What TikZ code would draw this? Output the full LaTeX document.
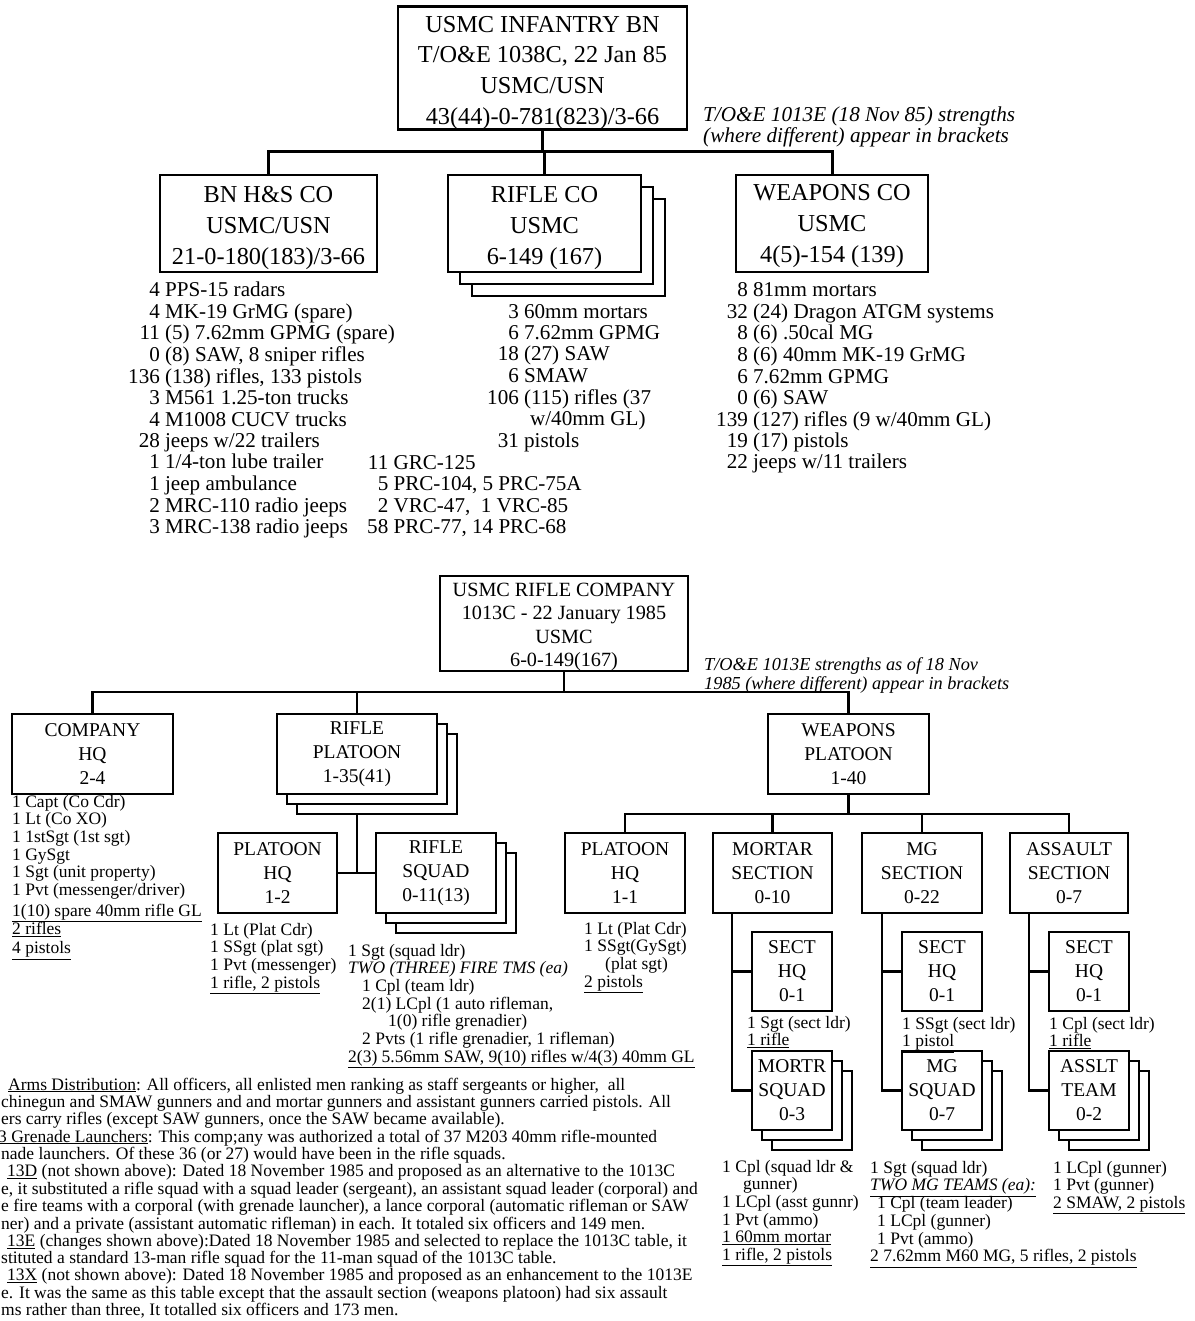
\documentclass[tikz,border=0pt]{standalone}
\usepackage{fontspec}
\setmainfont{Liberation Serif}
\usetikzlibrary{backgrounds}
\newcommand\myTopBox{\fontsize{24.3}{30.7}\selectfont}
\newcommand\myTopList{\fontsize{21.1}{21.5}\selectfont}
\newcommand\myTopNote{\fontsize{21.2}{19.5}\selectfont\itshape}
\newcommand\myLowBox{\fontsize{19.5}{24}\selectfont}
\newcommand\myRCBox{\fontsize{20.2}{23.3}\selectfont}
\newcommand\myLowList{\fontsize{17.5}{17.7}\selectfont}
\newcommand\myLowNote{\fontsize{18.3}{19}\selectfont\itshape}
\newcommand\myNotes{\fontsize{17.5}{17}\selectfont}
\newcommand\myTopStrut{\rule{0pt}{25.5pt}}
\newcommand\myRCStrut{\rule{0pt}{20.5pt}}
\begin{document}
\begin{tikzpicture}[x=1pt,y=-1pt,
  tb/.style={draw, line width=2.5pt, fill=white, inner sep=0pt, align=center, font=\myTopBox},
  lb/.style={draw, line width=1.8pt, fill=white, inner sep=0pt, align=center, font=\myLowBox},
  tl/.style={anchor=base west, inner sep=0pt, font=\myTopList},
  ll/.style={anchor=base west, inner sep=0pt, font=\myLowList},
  tc/.style={line width=3pt},
  lc/.style={line width=2.3pt}]
\useasboundingbox (0,0) rectangle (1194,1321);

% ---------------- top chart ----------------
\node[tb, minimum width=289pt, minimum height=122pt] (bn) at (542.5,68)
  {\myTopStrut USMC INFANTRY BN\\T/O\&E 1038C, 22 Jan 85\\USMC/USN\\43(44)-0-781(823)/3-66};
\node[anchor=base west, inner sep=0pt, font=\myTopNote] (n1) at (703,122)
  {\begin{tabular}[t]{@{}l@{}}T/O\&E 1013E (18 Nov 85) strengths\\(where different) appear in brackets\end{tabular}};

\node[tb, minimum width=217pt, minimum height=97pt] (hs) at (268.5,223.5)
  {\myTopStrut BN H\&S CO\\USMC/USN\\21-0-180(183)/3-66};
\node[tb, minimum width=193pt, minimum height=97pt] (rco3) at (568.5,247.5) {};
\node[tb, minimum width=193pt, minimum height=97pt] (rco2) at (556.5,235.5) {};
\node[tb, minimum width=193pt, minimum height=97pt] (rco) at (544.5,223.5)
  {\myTopStrut RIFLE CO\\USMC\\6-149 (167)};
\node[tb, minimum width=192pt, minimum height=97pt] (wco) at (832,223.5)
  {\rule{0pt}{21.5pt}WEAPONS CO\\USMC\\4(5)-154 (139)};

\node[tl] (hslist) at (128,297) {\begin{tabular}[t]{@{}r@{\ }l@{}}
4 & PPS-15 radars\\
4 & MK-19 GrMG (spare)\\
11 & (5) 7.62mm GPMG (spare)\\
0 & (8) SAW, 8 sniper rifles\\
136 & (138) rifles, 133 pistols\\
3 & M561 1.25-ton trucks\\
4 & M1008 CUCV trucks\\
28 & jeeps w/22 trailers\\
1 & 1/4-ton lube trailer\\
1 & jeep ambulance\\
2 & MRC-110 radio jeeps\\
3 & MRC-138 radio jeeps\end{tabular}};

\node[tl] (rcolist) at (487,318) {\begin{tabular}[t]{@{}r@{\ }l@{}}
3 & 60mm mortars\\
6 & 7.62mm GPMG\\
18 & (27) SAW\\
6 & SMAW\\
106 & (115) rifles (37\\
 & \hspace*{6pt}w/40mm GL)\\
31 & pistols\end{tabular}};

\node[tl] (radlist) at (367,469) {\begin{tabular}[t]{@{}r@{\ }l@{}}
11 & GRC-125\\
5 & PRC-104, 5 PRC-75A\\
2 & VRC-47, \ 1 VRC-85\\
58 & PRC-77, 14 PRC-68\end{tabular}};

\node[tl] (wcolist) at (716,297) {\begin{tabular}[t]{@{}r@{\ }l@{}}
8 & 81mm mortars\\
32 & (24) Dragon ATGM systems\\
8 & (6) .50cal MG\\
8 & (6) 40mm MK-19 GrMG\\
6 & 7.62mm GPMG\\
0 & (6) SAW\\
139 & (127) rifles (9 w/40mm GL)\\
19 & (17) pistols\\
22 & jeeps w/11 trailers\end{tabular}};

% ---------------- rifle company chart ----------------
\node[lb, font=\myRCBox, minimum width=248pt, minimum height=93pt] (rc) at (564,623.5)
  {\myRCStrut USMC RIFLE COMPANY\\1013C - 22 January 1985\\USMC\\6-0-149(167)};
\node[anchor=base west, inner sep=0pt, font=\myLowNote] (n2) at (704,670)
  {\begin{tabular}[t]{@{}l@{}}T/O\&E 1013E strengths as of 18 Nov\\1985 (where different) appear in brackets\end{tabular}};

\node[lb, minimum width=161pt, minimum height=80pt] (chq) at (92.5,754) {COMPANY\\HQ\\2-4};
\node[lb, minimum width=160pt, minimum height=80pt] (rp3) at (377,774) {};
\node[lb, minimum width=160pt, minimum height=80pt] (rp2) at (367,764) {};
\node[lb, minimum width=160pt, minimum height=80pt] (rp) at (357,754) {RIFLE\\PLATOON\\1-35(41)};
\node[lb, minimum width=161pt, minimum height=80pt] (wp) at (848.5,754) {WEAPONS\\PLATOON\\1-40};

\node[lb, minimum width=119pt, minimum height=80pt] (php) at (277.5,873) {PLATOON\\HQ\\1-2};
\node[lb, minimum width=120pt, minimum height=80pt] (rs3) at (456,893) {};
\node[lb, minimum width=120pt, minimum height=80pt] (rs2) at (446,883) {};
\node[lb, minimum width=120pt, minimum height=80pt] (rs) at (436,873) {RIFLE\\SQUAD\\0-11(13)};

\node[lb, minimum width=120pt, minimum height=80pt] (whq) at (625,873) {PLATOON\\HQ\\1-1};
\node[lb, minimum width=119pt, minimum height=80pt] (ms) at (772.5,873) {MORTAR\\SECTION\\0-10};
\node[lb, minimum width=120pt, minimum height=80pt] (mgs) at (922,873) {MG\\SECTION\\0-22};
\node[lb, minimum width=118pt, minimum height=80pt] (as) at (1069,873) {ASSAULT\\SECTION\\0-7};

\node[lb, minimum width=80pt, minimum height=79pt] (msh) at (792,971.5) {SECT\\HQ\\0-1};
\node[lb, minimum width=80pt, minimum height=79pt] (mgh) at (942,971.5) {SECT\\HQ\\0-1};
\node[lb, minimum width=80pt, minimum height=79pt] (ash) at (1089,971.5) {SECT\\HQ\\0-1};

\node[lb, minimum width=80pt, minimum height=79pt] (mq3) at (812,1110.5) {};
\node[lb, minimum width=80pt, minimum height=79pt] (mq2) at (802,1100.5) {};
\node[lb, minimum width=80pt, minimum height=79pt] (mq) at (792,1090.5) {MORTR\\SQUAD\\0-3};
\node[lb, minimum width=80pt, minimum height=79pt] (gq3) at (962,1110.5) {};
\node[lb, minimum width=80pt, minimum height=79pt] (gq2) at (952,1100.5) {};
\node[lb, minimum width=80pt, minimum height=79pt] (gq) at (942,1090.5) {MG\\SQUAD\\0-7};
\node[lb, minimum width=80pt, minimum height=79pt] (aq3) at (1109,1110.5) {};
\node[lb, minimum width=80pt, minimum height=79pt] (aq2) at (1099,1100.5) {};
\node[lb, minimum width=80pt, minimum height=79pt] (aq) at (1089,1090.5) {ASSLT\\TEAM\\0-2};

% lists
\node[ll] (chqlist) at (12,807) {\begin{tabular}[t]{@{}l@{}}
1 Capt (Co Cdr)\\
1 Lt (Co XO)\\
1 1stSgt (1st sgt)\\
1 GySgt\\
1 Sgt (unit property)\\
1 Pvt (messenger/driver)\\[3pt]
\underline{1(10) spare 40mm rifle GL}\\[1pt]
\underline{2 rifles}\\[1pt]
\underline{4 pistols}\end{tabular}};

\node[ll] (phplist) at (210,935) {\begin{tabular}[t]{@{}l@{}}
1 Lt (Plat Cdr)\\
1 SSgt (plat sgt)\\
1 Pvt (messenger)\\
\underline{1 rifle, 2 pistols}\end{tabular}};

\node[ll] (rslist) at (348,956) {\begin{tabular}[t]{@{}l@{}}
1 Sgt (squad ldr)\\
\textit{TWO (THREE) FIRE TMS (ea)}\\
\hspace*{14pt}1 Cpl (team ldr)\\
\hspace*{14pt}2(1) LCpl (1 auto rifleman,\\
\hspace*{40pt}1(0) rifle grenadier)\\
\hspace*{14pt}2 Pvts (1 rifle grenadier, 1 rifleman)\\
\underline{2(3) 5.56mm SAW, 9(10) rifles w/4(3) 40mm GL}\end{tabular}};

\node[ll] (whqlist) at (584,934) {\begin{tabular}[t]{@{}l@{}}
1 Lt (Plat Cdr)\\
1 SSgt(GySgt)\\
\hspace*{21pt}(plat sgt)\\
\underline{2 pistols}\end{tabular}};

\node[ll] (mshlist) at (747,1028) {\begin{tabular}[t]{@{}l@{}}
1 Sgt (sect ldr)\\
\underline{1 rifle}\end{tabular}};
\node[ll] (mgshlist) at (902,1029) {\begin{tabular}[t]{@{}l@{}}
1 SSgt (sect ldr)\\
\underline{1 pistol}\end{tabular}};
\node[ll] (ashlist) at (1049,1029) {\begin{tabular}[t]{@{}l@{}}
1 Cpl (sect ldr)\\
\underline{1 rifle}\end{tabular}};

\node[ll] (mqlist) at (722,1172) {\begin{tabular}[t]{@{}l@{}}
1 Cpl (squad ldr \&\\
\hspace*{21pt}gunner)\\
1 LCpl (asst gunnr)\\
1 Pvt (ammo)\\
\underline{1 60mm mortar}\\
\underline{1 rifle, 2 pistols}\end{tabular}};

\node[ll] (gqlist) at (870,1173) {\begin{tabular}[t]{@{}l@{}}
1 Sgt (squad ldr)\\
\underline{\textit{TWO MG TEAMS (ea):}}\\
\hspace*{7pt}1 Cpl (team leader)\\
\hspace*{7pt}1 LCpl (gunner)\\
\hspace*{7pt}1 Pvt (ammo)\\
\underline{2 7.62mm M60 MG, 5 rifles, 2 pistols}\end{tabular}};

\node[ll] (aqlist) at (1053,1173) {\begin{tabular}[t]{@{}l@{}}
1 LCpl (gunner)\\
1 Pvt (gunner)\\
\underline{2 SMAW, 2 pistols}\end{tabular}};

% notes
\node[anchor=base west, inner sep=0pt, font=\myNotes] (notes) at (1,1090) {\begin{tabular}[t]{@{}l@{}}
\hspace*{7pt}\underline{Arms Distribution}: All officers, all enlisted men ranking as staff sergeants or higher, \ all\\
chinegun and SMAW gunners and and mortar gunners and assistant gunners carried pistols. All\\
ers carry rifles (except SAW gunners, once the SAW became available).\\
\hspace*{-3pt}\underline{3 Grenade Launchers}: This comp;any was authorized a total of 37 M203 40mm rifle-mounted\\
nade launchers. Of these 36 (or 27) would have been in the rifle squads.\\
\hspace*{6pt}\underline{13D} (not shown above): Dated 18 November 1985 and proposed as an alternative to the 1013C\\
e, it substituted a rifle squad with a squad leader (sergeant), an assistant squad leader (corporal) and\\
e fire teams with a corporal (with grenade launcher), a lance corporal (automatic rifleman or SAW\\
ner) and a private (assistant automatic rifleman) in each. It totaled six officers and 149 men.\\
\hspace*{6pt}\underline{13E} (changes shown above):Dated 18 November 1985 and selected to replace the 1013C table, it\\
stituted a standard 13-man rifle squad for the 11-man squad of the 1013C table.\\
\hspace*{6pt}\underline{13X} (not shown above): Dated 18 November 1985 and proposed as an enhancement to the 1013E\\
e. It was the same as this table except that the assault section (weapons platoon) had six assault\\
ms rather than three, It totalled six officers and 173 men.\end{tabular}};

% ---------------- connectors ----------------
\begin{pgfonlayer}{background}
\fill[white] (0,0) rectangle (1194,1321);
\coordinate (j1) at (543,152);
\draw[tc] (bn.south) -- (bn.south |- j1);
\draw[tc] (hs.north) -- (hs.north |- j1) -- (wco.north |- j1) -- (wco.north);
\draw[tc] (rco.north) -- (rco.north |- j1);

\coordinate (j2) at (564,692);
\draw[lc] (rc.south) -- (rc.south |- j2);
\draw[lc] (chq.north) -- (chq.north |- j2) -- (wp.north |- j2) -- (wp.north);
\draw[lc] (rp.north) -- (rp.north |- j2);
\draw[lc] (rp.south) -- (rp.south |- php.east);
\draw[lc] (php.east) -- (rs.west);

\coordinate (j3) at (848.5,814);
\draw[lc] (wp.south) -- (wp.south |- j3);
\draw[lc] (whq.north) -- (whq.north |- j3) -- (as.north |- j3) -- (as.north);
\draw[lc] (ms.north) -- (ms.north |- j3);
\draw[lc] (mgs.north) -- (mgs.north |- j3);

\coordinate (mb) at ([xshift=20pt]ms.south west);
\draw[lc] (mb) |- (mq.west);
\draw[lc] (mb |- msh.west) -- (msh.west);
\coordinate (gb) at ([xshift=21pt]mgs.south west);
\draw[lc] (gb) |- (gq.west);
\draw[lc] (gb |- mgh.west) -- (mgh.west);
\coordinate (ab) at ([xshift=20pt]as.south west);
\draw[lc] (ab) |- (aq.west);
\draw[lc] (ab |- ash.west) -- (ash.west);
\end{pgfonlayer}
\end{tikzpicture}
\end{document}
